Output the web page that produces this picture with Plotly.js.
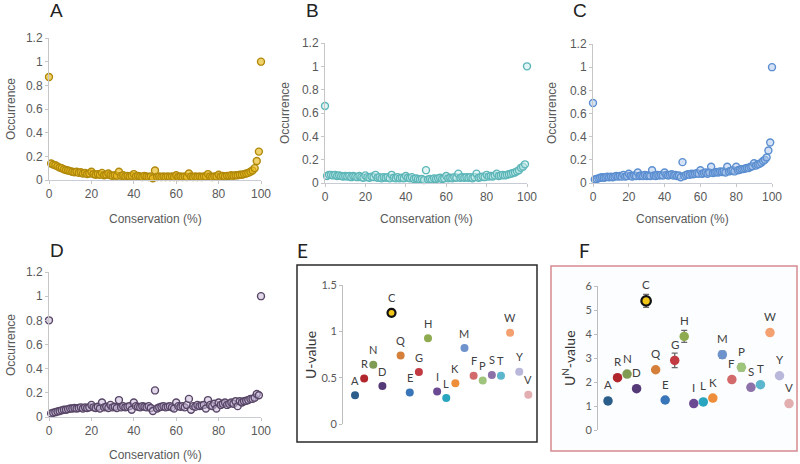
<!DOCTYPE html>
<html>
<head>
<meta charset="utf-8">
<script src="https://cdn.plot.ly/plotly-3.0.1.min.js"></script>
<style>html,body{margin:0;padding:0;background:#fff;}#chart{width:800px;height:464px;}</style>
</head>
<body>
<div id="chart"></div>
<script>
// ---------- DATA ----------
const conservation = Array.from({length: 101}, (_, i) => i); // 0..100 %

const occurrenceA = [0.87,
 0.14,0.13,0.125,0.115,0.105,0.1,0.09,0.085,0.08,0.075,
 0.07,0.065,0.07,0.06,0.065,0.055,0.06,0.05,0.055,0.07,
 0.05,0.045,0.05,0.045,0.06,0.04,0.045,0.055,0.04,0.035,
 0.04,0.035,0.07,0.035,0.04,0.03,0.035,0.03,0.035,0.05,
 0.03,0.035,0.03,0.025,0.035,0.03,0.025,0.03,0.015,0.08,
 0.025,0.03,0.025,0.03,0.025,0.03,0.025,0.03,0.025,0.04,
 0.025,0.03,0.025,0.03,0.025,0.055,0.03,0.025,0.03,0.025,
 0.03,0.025,0.03,0.03,0.05,0.03,0.025,0.03,0.03,0.045,
 0.03,0.035,0.03,0.035,0.035,0.04,0.035,0.04,0.04,0.045,
 0.045,0.05,0.055,0.06,0.07,0.08,0.1,0.16,0.24,1.0];

const occurrenceB = [0.66,
 0.06,0.07,0.07,0.065,0.07,0.06,0.065,0.06,0.055,0.06,
 0.055,0.06,0.05,0.06,0.055,0.05,0.06,0.05,0.045,0.065,
 0.05,0.045,0.055,0.05,0.07,0.045,0.05,0.04,0.05,0.045,
 0.05,0.04,0.07,0.045,0.04,0.05,0.04,0.045,0.04,0.06,
 0.045,0.04,0.05,0.035,0.04,0.035,0.03,0.035,0.025,0.11,
 0.03,0.035,0.03,0.04,0.035,0.04,0.045,0.035,0.04,0.06,
 0.04,0.045,0.04,0.05,0.045,0.08,0.045,0.05,0.045,0.05,
 0.045,0.05,0.04,0.05,0.08,0.045,0.05,0.055,0.05,0.07,
 0.055,0.06,0.055,0.065,0.08,0.06,0.065,0.07,0.065,0.07,
 0.075,0.08,0.085,0.09,0.1,0.11,0.13,0.14,0.16,1.0];

const occurrenceC = [0.69,
 0.03,0.035,0.04,0.045,0.05,0.045,0.05,0.055,0.05,0.055,
 0.05,0.055,0.06,0.055,0.06,0.055,0.07,0.055,0.06,0.08,
 0.06,0.055,0.065,0.06,0.09,0.06,0.065,0.06,0.07,0.06,
 0.065,0.06,0.11,0.065,0.06,0.07,0.065,0.07,0.065,0.09,
 0.07,0.065,0.07,0.075,0.065,0.07,0.06,0.065,0.05,0.18,
 0.06,0.07,0.075,0.07,0.08,0.075,0.08,0.085,0.08,0.11,
 0.08,0.085,0.09,0.08,0.09,0.14,0.085,0.09,0.095,0.09,
 0.1,0.095,0.1,0.09,0.14,0.1,0.105,0.11,0.1,0.14,
 0.11,0.115,0.12,0.12,0.125,0.13,0.13,0.14,0.145,0.17,
 0.15,0.16,0.165,0.175,0.19,0.2,0.22,0.28,0.35,1.0];

const occurrenceD = [0.80,
 0.03,0.035,0.04,0.045,0.05,0.055,0.06,0.06,0.065,0.07,
 0.07,0.075,0.07,0.075,0.08,0.07,0.08,0.075,0.08,0.1,
 0.08,0.075,0.085,0.07,0.12,0.08,0.085,0.075,0.1,0.08,
 0.085,0.075,0.14,0.08,0.09,0.08,0.085,0.09,0.06,0.12,
 0.09,0.085,0.08,0.09,0.085,0.08,0.09,0.075,0.05,0.22,
 0.07,0.08,0.085,0.09,0.08,0.085,0.09,0.08,0.07,0.12,
 0.09,0.085,0.09,0.08,0.1,0.15,0.06,0.09,0.085,0.1,
 0.09,0.095,0.1,0.07,0.14,0.1,0.09,0.11,0.07,0.12,
 0.1,0.11,0.12,0.1,0.11,0.12,0.11,0.13,0.09,0.13,
 0.12,0.13,0.135,0.14,0.15,0.15,0.16,0.19,0.18,1.0];

const aminoAcids = ['A','R','N','D','C','Q','E','G','H','I','L','K','M','F','P','S','T','W','Y','V'];
const uValues  = [0.31,0.49,0.64,0.41,1.20,0.74,0.34,0.56,0.925,0.35,0.28,0.44,0.82,0.52,0.47,0.53,0.52,0.985,0.565,0.315];
const unValues = [1.21,2.18,2.33,1.72,5.38,2.51,1.25,2.90,3.90,1.10,1.17,1.33,3.14,2.10,2.61,1.78,1.89,4.06,2.26,1.10];
const unErrors = [0.05,0.08,0.08,0.05,0.27,0.08,0.05,0.30,0.25,0.05,0.05,0.06,0.15,0.06,0.15,0.05,0.05,0.06,0.05,0.04];

const aaColors = ['#2c5e8c','#b1262c','#7f9c52','#553a78','#f2c618','#d5803a','#3875b9','#c23a42','#8eab50','#6b4a93',
                  '#29a5c0','#ef8e3a','#6e93cc','#d26a6b','#9fc47b','#8c72a8','#5cb6ce','#f4a172','#b9b7da','#e2aeb0'];

// ---------- LAYOUT HELPERS ----------
const W = 800, H = 464;
const PX = v => v / W;
const PY = v => 1 - v / H;
const tickFont = {family: 'Liberation Sans, Arial, sans-serif', size: 12, color: '#595959'};
const calFont = {family: 'Lato, Open Sans, sans-serif', size: 11, color: '#595959'};

const panels = [
  {ax: '',  vals: occurrenceA, letter: 'A', fill: 'rgba(232,186,30,0.65)',  line: '#b0880a', xd: [49, 261],  yd: [38, 180],  lp: [57, 11],  yt: [11, 109],  xt: [155, 219]},
  {ax: '2', vals: occurrenceB, letter: 'B', fill: 'rgba(200,236,236,0.5)',  line: '#5cb6b8', xd: [325, 527], yd: [43, 183],  lp: [312, 11], yt: [285, 113], xt: [426, 219]},
  {ax: '3', vals: occurrenceC, letter: 'C', fill: 'rgba(172,198,236,0.5)',  line: '#5a8ed0', xd: [593, 772], yd: [44, 183],  lp: [580, 11], yt: [552, 113], xt: [682, 219]},
  {ax: '4', vals: occurrenceD, letter: 'D', fill: 'rgba(200,186,216,0.55)', line: '#574566', xd: [49, 261],  yd: [272, 417], lp: [57, 250], yt: [11, 345],  xt: [155, 455]}
];

const data = [];
const layout = {
  width: W, height: H, margin: {l: 0, r: 0, t: 0, b: 0},
  paper_bgcolor: '#ffffff', plot_bgcolor: 'rgba(0,0,0,0)',
  showlegend: false, annotations: [], shapes: [],
  font: tickFont
};

panels.forEach(p => {
  data.push({
    x: conservation, y: p.vals, type: 'scatter', mode: 'markers',
    xaxis: 'x' + p.ax, yaxis: 'y' + p.ax, cliponaxis: false, hoverinfo: 'x+y',
    marker: {size: 7, color: p.fill, line: {color: p.line, width: 1.4}}
  });
  layout['xaxis' + p.ax] = {
    domain: [PX(p.xd[0]), PX(p.xd[1])], anchor: 'y' + p.ax, range: [0, 100],
    tickvals: [0, 20, 40, 60, 80, 100], ticks: 'outside', ticklen: 3, tickcolor: '#c6c6c6',
    showline: true, linecolor: '#c9ccd4', linewidth: 1, showgrid: false, zeroline: false,
    tickfont: tickFont, fixedrange: true
  };
  layout['yaxis' + p.ax] = {
    domain: [PY(p.yd[1]), PY(p.yd[0])], anchor: 'x' + p.ax, range: [0, 1.2],
    tickvals: [0, 0.2, 0.4, 0.6, 0.8, 1, 1.2], ticks: 'outside', ticklen: 3, tickcolor: '#c6c6c6',
    showline: true, linecolor: '#c6c6c6', linewidth: 1, showgrid: false, zeroline: false,
    tickfont: tickFont, fixedrange: true
  };
  layout.annotations.push(
    {xref: 'paper', yref: 'paper', x: PX(p.lp[0]), y: PY(p.lp[1]), text: p.letter, showarrow: false,
     xanchor: 'center', yanchor: 'middle', font: {family: 'Liberation Sans, Arial, sans-serif', size: 19, color: '#222'}},
    {xref: 'paper', yref: 'paper', x: PX(p.yt[0]), y: PY(p.yt[1]), text: 'Occurrence', textangle: -90, showarrow: false,
     xanchor: 'center', yanchor: 'middle', font: {family: 'Liberation Sans, Arial, sans-serif', size: 12, color: '#595959'}},
    {xref: 'paper', yref: 'paper', x: PX(p.xt[0]), y: PY(p.xt[1]), text: 'Conservation (%)', showarrow: false,
     xanchor: 'center', yanchor: 'middle', font: {family: 'Liberation Sans, Arial, sans-serif', size: 12, color: '#595959'}}
  );
});

// ---------- PANEL E ----------
const lineWidthsE = aminoAcids.map(a => a === 'C' ? 2.2 : 0);
const lineColorsE = aminoAcids.map(a => a === 'C' ? '#111' : 'rgba(0,0,0,0)');
data.push({
  x: aminoAcids.map((_, i) => i), y: uValues, type: 'scatter', mode: 'markers',
  xaxis: 'x5', yaxis: 'y5', cliponaxis: false, text: aminoAcids, hoverinfo: 'text+y',
  marker: {size: 8, color: aaColors, line: {color: lineColorsE, width: lineWidthsE}}
});
layout.xaxis5 = {domain: [PX(343), PX(536)], anchor: 'y5', range: [-1.32, 19.84], visible: false, fixedrange: true};
layout.yaxis5 = {
  domain: [PY(424), PY(285)], anchor: 'x5', range: [0, 1.5], tickvals: [0, 0.5, 1, 1.5],
  ticks: 'outside', ticklen: 3, tickcolor: '#bdbdbd', showline: true, linecolor: '#bdbdbd',
  showgrid: false, zeroline: false, tickfont: calFont, fixedrange: true
};

// ---------- PANEL F ----------
data.push({
  x: aminoAcids.map((_, i) => i), y: unValues, type: 'scatter', mode: 'markers',
  xaxis: 'x6', yaxis: 'y6', cliponaxis: false, text: aminoAcids, hoverinfo: 'text+y',
  error_y: {type: 'data', array: unErrors, visible: true, color: '#6a6a6a', thickness: 1.3, width: 3},
  marker: {size: 9.5, color: aaColors, line: {color: lineColorsE, width: lineWidthsE}}
});
layout.xaxis6 = {domain: [PX(598), PX(796)], anchor: 'y6', range: [-1.05, 19.73], visible: false, fixedrange: true};
layout.yaxis6 = {
  domain: [PY(430), PY(286)], anchor: 'x6', range: [0, 6], tickvals: [0, 1, 2, 3, 4, 5, 6],
  ticks: 'outside', ticklen: 3, tickcolor: '#bdbdbd', showline: true, linecolor: '#bdbdbd',
  showgrid: false, zeroline: false, tickfont: calFont, fixedrange: true
};

aminoAcids.forEach((a, i) => {
  layout.annotations.push({xref: 'x5', yref: 'y5', x: i, y: uValues[i], text: a, showarrow: false,
    yshift: 15, font: {family: 'Lato, Open Sans, sans-serif', size: 11, color: '#404040'}});
  layout.annotations.push({xref: 'x6', yref: 'y6', x: i, y: unValues[i], text: a, showarrow: false,
    yshift: 16, font: {family: 'Lato, Open Sans, sans-serif', size: 11.5, color: '#404040'}});
});

layout.annotations.push(
  {xref: 'paper', yref: 'paper', x: PX(302), y: PY(250), text: 'E', showarrow: false, xanchor: 'center', yanchor: 'middle',
   font: {family: 'Lato, Open Sans, sans-serif', size: 19, color: '#222'}},
  {xref: 'paper', yref: 'paper', x: PX(584), y: PY(250), text: 'F', showarrow: false, xanchor: 'center', yanchor: 'middle',
   font: {family: 'Lato, Open Sans, sans-serif', size: 19, color: '#222'}},
  {xref: 'paper', yref: 'paper', x: PX(310), y: PY(355), text: 'U-value', textangle: -90, showarrow: false,
   xanchor: 'center', yanchor: 'middle', font: {family: 'Lato, Open Sans, sans-serif', size: 14, color: '#333'}},
  {xref: 'paper', yref: 'paper', x: PX(568), y: PY(358), text: 'U<sup>N</sup>-value', textangle: -90, showarrow: false,
   xanchor: 'center', yanchor: 'middle', font: {family: 'Lato, Open Sans, sans-serif', size: 14, color: '#333'}}
);

layout.shapes.push(
  {type: 'rect', xref: 'paper', yref: 'paper', x0: PX(297), x1: PX(537), y0: PY(442), y1: PY(265),
   line: {color: '#2a2a2a', width: 1.5}, fillcolor: 'rgba(0,0,0,0)', layer: 'below'},
  {type: 'rect', xref: 'paper', yref: 'paper', x0: PX(551), x1: PX(797), y0: PY(451), y1: PY(266),
   line: {color: '#d58a90', width: 1.5}, fillcolor: '#fcfdfe', layer: 'below'}
);

Plotly.newPlot('chart', data, layout, {staticPlot: true, displayModeBar: false});
</script>
</body>
</html>
